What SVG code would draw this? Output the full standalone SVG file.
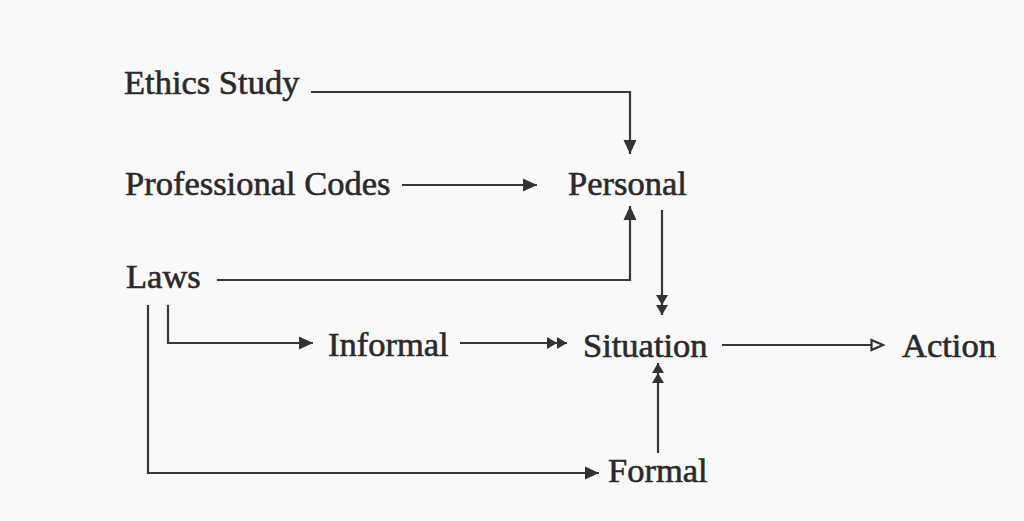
<svg xmlns="http://www.w3.org/2000/svg" width="1024" height="521" viewBox="0 0 1024 521">
<style>
text{font-family:"Liberation Serif","Times New Roman",serif;font-size:34.5px;fill:#2a2a2a;stroke:#2a2a2a;stroke-width:0.6}
.c{fill:none;stroke:#383838;stroke-width:2.2}
</style>
<defs>
<marker id="a" markerUnits="userSpaceOnUse" markerWidth="16" markerHeight="14" refX="14" refY="6.5" orient="auto" viewBox="0 0 16 13">
<path d="M0,0 L14,6.5 L0,13 z" fill="#333"/>
</marker>
<marker id="d" markerUnits="userSpaceOnUse" markerWidth="24" markerHeight="14" refX="20" refY="6" orient="auto" viewBox="0 0 24 12">
<path d="M0,0 L10,6 L0,12 z M10,0 L20,6 L10,12 z" fill="#333"/>
</marker>
<marker id="o" markerUnits="userSpaceOnUse" markerWidth="16" markerHeight="14" refX="13" refY="6.5" orient="auto" viewBox="0 0 16 13">
<path d="M1.5,1.5 L13,6.5 L1.5,11.5 z" fill="#f9f9f9" stroke="#333" stroke-width="2.2"/>
</marker>
</defs>
<rect width="1024" height="521" fill="#f9f9f9"/>
<g id="connectors">
<path class="c" d="M311,92 H630 V154" marker-end="url(#a)"/>
<path class="c" d="M402,185 H537" marker-end="url(#a)"/>
<path class="c" d="M217,280 H630 V206" marker-end="url(#a)"/>
<path class="c" d="M662,210 V315" marker-end="url(#d)"/>
<path class="c" d="M168,305 V343 H313" marker-end="url(#a)"/>
<path class="c" d="M148,305 V473 H599" marker-end="url(#a)"/>
<path class="c" d="M460,343 H567" marker-end="url(#d)"/>
<path class="c" d="M658,453 V363" marker-end="url(#d)"/>
<path class="c" d="M722,345 H883" marker-end="url(#o)"/>
</g>
<g id="ethics"><text x="124" y="94">Ethics Study</text></g>
<g id="codes"><text x="125" y="195">Professional Codes</text></g>
<g id="personal"><text x="568" y="195">Personal</text></g>
<g id="laws"><text x="126" y="288">Laws</text></g>
<g id="informal"><text x="328" y="356">Informal</text></g>
<g id="situation"><text x="583" y="357">Situation</text></g>
<g id="action"><text x="902" y="357">Action</text></g>
<g id="formal"><text x="608" y="482">Formal</text></g>
</svg>
